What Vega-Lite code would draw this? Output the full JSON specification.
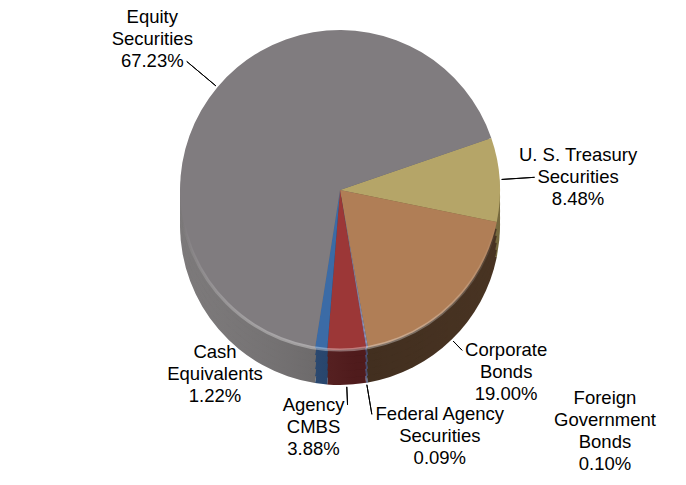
{
  "$schema": "https://vega.github.io/schema/vega-lite/v6.json",
  "width": 680,
  "height": 380,
  "autosize": {"type": "none"},
  "padding": {"left": 0, "top": 0, "right": 6, "bottom": 105},
  "background": "white",
  "config": {"view": {"stroke": null}},
  "data": {
    "values": [
      {"cat": "Treasury", "idx": 1, "value": 8.48, "label": "U. S. Treasury\nSecurities\n8.48%"},
      {"cat": "Corporate", "idx": 2, "value": 19.00, "label": "Corporate\nBonds\n19.00%"},
      {"cat": "Foreign", "idx": 3, "value": 0.10, "label": "Foreign\nGovernment\nBonds\n0.10%"},
      {"cat": "Federal", "idx": 4, "value": 0.09, "label": "Federal Agency\nSecurities\n0.09%"},
      {"cat": "Agency", "idx": 5, "value": 3.88, "label": "Agency\nCMBS\n3.88%"},
      {"cat": "Cash", "idx": 6, "value": 1.22, "label": "Cash\nEquivalents\n1.22%"},
      {"cat": "Equity", "idx": 7, "value": 67.23, "label": "Equity\nSecurities\n67.23%"}
    ]
  },
  "resolve": {"scale": {"theta": "independent", "color": "independent"}},
  "layer": [
    {
      "layer": [
        {
          "mark": {"type": "arc", "outerRadius": 160, "yOffset": 35},
          "encoding": {
            "theta": {"field": "value", "type": "quantitative", "stack": true, "scale": {"range": [1.2392, 7.5224]}},
            "order": {"field": "idx", "type": "quantitative"},
            "color": {"field": "cat", "type": "nominal", "legend": null, "scale": {"domain": ["Treasury", "Corporate", "Foreign", "Federal", "Agency", "Cash", "Equity"], "range": ["#7c6f42", "#4c3624", "#55678f", "#5d5180", "#5c1f20", "#284a77", "#747172"]}}
          }
        },
        {
          "transform": [{"aggregate": [{"op": "sum", "field": "value", "as": "value"}]}],
          "mark": {"type": "arc", "outerRadius": 160, "yOffset": 35, "fill": {"gradient": "linear", "x1": 0, "y1": 0, "x2": 1, "y2": 0, "stops": [{"offset": 0, "color": "rgba(255,255,255,0.06)"}, {"offset": 0.55, "color": "rgba(0,0,0,0.14)"}, {"offset": 1, "color": "rgba(0,0,0,0.05)"}]}},
          "encoding": {"theta": {"field": "value", "type": "quantitative", "stack": true, "scale": {"range": [1.2392, 7.5224]}}}
        },
        {
          "mark": {"type": "arc", "outerRadius": 160, "yOffset": 28},
          "encoding": {
            "theta": {"field": "value", "type": "quantitative", "stack": true, "scale": {"range": [1.2392, 7.5224]}},
            "order": {"field": "idx", "type": "quantitative"},
            "color": {"field": "cat", "type": "nominal", "legend": null, "scale": {"domain": ["Treasury", "Corporate", "Foreign", "Federal", "Agency", "Cash", "Equity"], "range": ["#7c6f42", "#4c3624", "#55678f", "#5d5180", "#5c1f20", "#284a77", "#747172"]}}
          }
        },
        {
          "transform": [{"aggregate": [{"op": "sum", "field": "value", "as": "value"}]}],
          "mark": {"type": "arc", "outerRadius": 160, "yOffset": 28, "fill": {"gradient": "linear", "x1": 0, "y1": 0, "x2": 1, "y2": 0, "stops": [{"offset": 0, "color": "rgba(255,255,255,0.06)"}, {"offset": 0.55, "color": "rgba(0,0,0,0.14)"}, {"offset": 1, "color": "rgba(0,0,0,0.05)"}]}},
          "encoding": {"theta": {"field": "value", "type": "quantitative", "stack": true, "scale": {"range": [1.2392, 7.5224]}}}
        },
        {
          "mark": {"type": "arc", "outerRadius": 160, "yOffset": 21},
          "encoding": {
            "theta": {"field": "value", "type": "quantitative", "stack": true, "scale": {"range": [1.2392, 7.5224]}},
            "order": {"field": "idx", "type": "quantitative"},
            "color": {"field": "cat", "type": "nominal", "legend": null, "scale": {"domain": ["Treasury", "Corporate", "Foreign", "Federal", "Agency", "Cash", "Equity"], "range": ["#7c6f42", "#4c3624", "#55678f", "#5d5180", "#5c1f20", "#284a77", "#747172"]}}
          }
        },
        {
          "transform": [{"aggregate": [{"op": "sum", "field": "value", "as": "value"}]}],
          "mark": {"type": "arc", "outerRadius": 160, "yOffset": 21, "fill": {"gradient": "linear", "x1": 0, "y1": 0, "x2": 1, "y2": 0, "stops": [{"offset": 0, "color": "rgba(255,255,255,0.06)"}, {"offset": 0.55, "color": "rgba(0,0,0,0.14)"}, {"offset": 1, "color": "rgba(0,0,0,0.05)"}]}},
          "encoding": {"theta": {"field": "value", "type": "quantitative", "stack": true, "scale": {"range": [1.2392, 7.5224]}}}
        },
        {
          "mark": {"type": "arc", "outerRadius": 160, "yOffset": 14},
          "encoding": {
            "theta": {"field": "value", "type": "quantitative", "stack": true, "scale": {"range": [1.2392, 7.5224]}},
            "order": {"field": "idx", "type": "quantitative"},
            "color": {"field": "cat", "type": "nominal", "legend": null, "scale": {"domain": ["Treasury", "Corporate", "Foreign", "Federal", "Agency", "Cash", "Equity"], "range": ["#7c6f42", "#4c3624", "#55678f", "#5d5180", "#5c1f20", "#284a77", "#747172"]}}
          }
        },
        {
          "transform": [{"aggregate": [{"op": "sum", "field": "value", "as": "value"}]}],
          "mark": {"type": "arc", "outerRadius": 160, "yOffset": 14, "fill": {"gradient": "linear", "x1": 0, "y1": 0, "x2": 1, "y2": 0, "stops": [{"offset": 0, "color": "rgba(255,255,255,0.06)"}, {"offset": 0.55, "color": "rgba(0,0,0,0.14)"}, {"offset": 1, "color": "rgba(0,0,0,0.05)"}]}},
          "encoding": {"theta": {"field": "value", "type": "quantitative", "stack": true, "scale": {"range": [1.2392, 7.5224]}}}
        },
        {
          "mark": {"type": "arc", "outerRadius": 160, "yOffset": 7},
          "encoding": {
            "theta": {"field": "value", "type": "quantitative", "stack": true, "scale": {"range": [1.2392, 7.5224]}},
            "order": {"field": "idx", "type": "quantitative"},
            "color": {"field": "cat", "type": "nominal", "legend": null, "scale": {"domain": ["Treasury", "Corporate", "Foreign", "Federal", "Agency", "Cash", "Equity"], "range": ["#7c6f42", "#4c3624", "#55678f", "#5d5180", "#5c1f20", "#284a77", "#747172"]}}
          }
        },
        {
          "transform": [{"aggregate": [{"op": "sum", "field": "value", "as": "value"}]}],
          "mark": {"type": "arc", "outerRadius": 160, "yOffset": 7, "fill": {"gradient": "linear", "x1": 0, "y1": 0, "x2": 1, "y2": 0, "stops": [{"offset": 0, "color": "rgba(255,255,255,0.06)"}, {"offset": 0.55, "color": "rgba(0,0,0,0.14)"}, {"offset": 1, "color": "rgba(0,0,0,0.05)"}]}},
          "encoding": {"theta": {"field": "value", "type": "quantitative", "stack": true, "scale": {"range": [1.2392, 7.5224]}}}
        }
      ]
    },
    {
      "encoding": {
        "theta": {"field": "value", "type": "quantitative", "stack": true, "scale": {"range": [1.2392, 7.5224]}},
        "order": {"field": "idx", "type": "quantitative"},
        "detail": {"field": "cat", "type": "nominal"}
      },
      "layer": [
        {
          "mark": {"type": "arc", "outerRadius": 160},
          "encoding": {
            "color": {
              "field": "cat", "type": "nominal", "legend": null,
              "scale": {
                "domain": ["Treasury", "Corporate", "Foreign", "Federal", "Agency", "Cash", "Equity"],
                "range": ["#b5a568", "#b07e56", "#8ea2cc", "#9a8cc0", "#9c3737", "#3b6ba6", "#807c7f"]
              }
            }
          }
        },
        {
          "mark": {"type": "arc", "innerRadius": 162, "outerRadius": 195, "padAngle": 3.1416, "fill": "transparent", "stroke": "black", "strokeWidth": 1},
          "encoding": {"strokeOpacity": {"condition": {"test": "datum.cat === 'Treasury'", "value": 1}, "value": 0}}
        },
        {
          "mark": {"type": "arc", "innerRadius": 162, "outerRadius": 175, "padAngle": 3.1416, "yOffset": 35, "fill": "transparent", "stroke": "black", "strokeWidth": 1},
          "encoding": {"strokeOpacity": {"condition": {"test": "datum.cat === 'Corporate'", "value": 1}, "value": 0}}
        },
        {
          "mark": {"type": "arc", "innerRadius": 162, "outerRadius": 192, "padAngle": 3.1416, "yOffset": 35, "fill": "transparent", "stroke": "black", "strokeWidth": 1},
          "encoding": {"strokeOpacity": {"condition": {"test": "datum.cat === 'Federal'", "value": 1}, "value": 0}}
        },
        {
          "mark": {"type": "arc", "innerRadius": 162, "outerRadius": 180, "padAngle": 3.1416, "yOffset": 35, "fill": "transparent", "stroke": "black", "strokeWidth": 1},
          "encoding": {"strokeOpacity": {"condition": {"test": "datum.cat === 'Agency'", "value": 1}, "value": 0}}
        },
        {
          "mark": {"type": "text", "radius": 200, "dx": -34.5, "dy": -44, "align": "center", "baseline": "middle", "fontSize": 18.5, "lineHeight": 22, "lineBreak": "\n", "font": "Liberation Sans", "color": "#000000"},
          "encoding": {"text": {"condition": {"test": "datum.cat === 'Equity'", "field": "label"}, "value": ""}}
        },
        {
          "mark": {"type": "text", "radius": 195, "dx": 43.5, "dy": -22, "align": "center", "baseline": "middle", "fontSize": 18.5, "lineHeight": 22, "lineBreak": "\n", "font": "Liberation Sans", "color": "#000000"},
          "encoding": {"text": {"condition": {"test": "datum.cat === 'Treasury'", "field": "label"}, "value": ""}}
        },
        {
          "mark": {"type": "text", "radius": 175, "dx": 44, "dy": 35, "align": "center", "baseline": "middle", "fontSize": 18.5, "lineHeight": 22, "lineBreak": "\n", "font": "Liberation Sans", "color": "#000000"},
          "encoding": {"text": {"condition": {"test": "datum.cat === 'Corporate'", "field": "label"}, "value": ""}}
        },
        {
          "mark": {"type": "text", "radius": 192, "dx": 68, "dy": 35, "align": "center", "baseline": "middle", "fontSize": 18.5, "lineHeight": 22, "lineBreak": "\n", "font": "Liberation Sans", "color": "#000000"},
          "encoding": {"text": {"condition": {"test": "datum.cat === 'Federal'", "field": "label"}, "value": ""}}
        },
        {
          "mark": {"type": "text", "radius": 180, "dx": -34, "dy": 35, "align": "center", "baseline": "middle", "fontSize": 18.5, "lineHeight": 22, "lineBreak": "\n", "font": "Liberation Sans", "color": "#000000"},
          "encoding": {"text": {"condition": {"test": "datum.cat === 'Agency'", "field": "label"}, "value": ""}}
        },
        {
          "mark": {"type": "text", "radius": 192, "dx": 232, "dy": 19, "align": "center", "baseline": "middle", "fontSize": 18.5, "lineHeight": 22, "lineBreak": "\n", "font": "Liberation Sans", "color": "#000000"},
          "encoding": {"text": {"condition": {"test": "datum.cat === 'Foreign'", "field": "label"}, "value": ""}}
        },
        {
          "mark": {"type": "text", "radius": 180, "dx": -103.7, "dy": -16.7, "align": "center", "baseline": "middle", "fontSize": 18.5, "lineHeight": 22, "lineBreak": "\n", "font": "Liberation Sans", "color": "#000000"},
          "encoding": {"text": {"condition": {"test": "datum.cat === 'Cash'", "field": "label"}, "value": ""}}
        }
      ]
    },
    {
      "transform": [{"aggregate": [{"op": "sum", "field": "value", "as": "value"}]}],
      "mark": {"type": "arc", "outerRadius": 160, "fill": "transparent", "strokeWidth": 3, "stroke": {"gradient": "linear", "x1": 0, "y1": 0, "x2": 0, "y2": 1, "stops": [{"offset": 0, "color": "rgba(255,255,255,0)"}, {"offset": 0.6, "color": "rgba(255,255,255,0)"}, {"offset": 1, "color": "rgba(255,255,255,0.35)"}]}},
      "encoding": {"theta": {"field": "value", "type": "quantitative", "stack": true, "scale": {"domain": [0, 100]}}}
    },
    {
      "transform": [
        {"filter": "datum.cat !== 'Equity'"},
        {"aggregate": [{"op": "sum", "field": "value", "as": "value"}]}
      ],
      "mark": {"type": "arc", "innerRadius": 162, "outerRadius": 200, "padAngle": 3.1416, "fill": "transparent", "stroke": "black", "strokeWidth": 1},
      "encoding": {
        "theta": {"field": "value", "type": "quantitative", "stack": true, "scale": {"domain": [0, 100], "range": [4.3808, 10.664]}}
      }
    }
  ]
}
